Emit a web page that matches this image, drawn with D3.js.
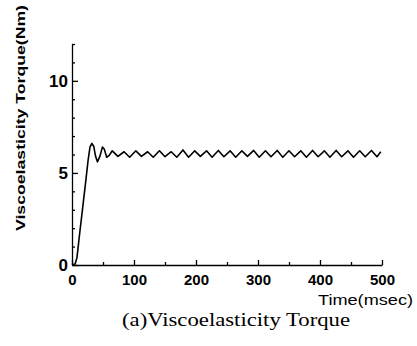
<!DOCTYPE html>
<html>
<head>
<meta charset="utf-8">
<script src="https://cdn.jsdelivr.net/npm/d3@7.9.0/dist/d3.min.js"></script>
<style>
  html, body { margin: 0; padding: 0; background: #fff; }
  svg { display: block; }
</style>
</head>
<body>
<div id="chart"></div>
<script>
// torque trace (msec, Nm)
const times = [0, 5, 8, 12, 17, 22, 26, 29, 32, 35, 38, 41, 45, 49, 52, 56, 60,
  65, 74, 84, 93, 103, 112, 122, 131, 141, 150, 160, 169, 179, 188, 198, 207,
  217, 226, 236, 245, 255, 264, 274, 283, 293, 302, 312, 321, 331, 340, 350,
  359, 369, 378, 388, 397, 407, 416, 426, 435, 445, 454, 464, 473, 483, 492, 498];
const torque = [0, 0.05, 0.4, 1.6, 3.05, 4.5, 5.7, 6.4, 6.6, 6.45, 5.9, 5.6, 5.9, 6.4, 6.3, 5.85, 5.95,
  6.2, 5.9, 6.15, 5.85, 6.2, 5.9, 6.15, 5.85, 6.2, 5.88, 6.15, 5.85, 6.25, 5.85, 6.2, 5.9,
  6.2, 5.85, 6.22, 5.88, 6.2, 5.85, 6.2, 5.9, 6.22, 5.85, 6.2, 5.88, 6.22, 5.85, 6.2,
  5.88, 6.2, 5.85, 6.22, 5.88, 6.2, 5.85, 6.22, 5.88, 6.2, 5.85, 6.2, 5.88, 6.22, 5.88, 6.15];

const xMajor = [0, 100, 200, 300, 400, 500];
const xMinor = [50, 150, 250, 350, 450];
const yMajor = [0, 5, 10];
const yMinor = [1, 2, 3, 4, 6, 7, 8, 9, 11, 12];

const width = 417;
const height = 346;

const svg = d3.select('#chart')
  .append('svg')
  .attr('width', width)
  .attr('height', height);

const x = d3.scaleLinear().domain([0, 500]).range([72, 382]);
const y = d3.scaleLinear().domain([0, 12]).range([265, 44]);

// minor ticks first, no labels
svg.append('g')
  .attr('transform', 'translate(0,265)')
  .call(d3.axisBottom(x).tickValues(xMinor).tickSize(-3).tickFormat(''))
  .call(g => g.select('.domain').remove());

svg.append('g')
  .attr('transform', 'translate(72,0)')
  .call(d3.axisLeft(y).tickValues(yMinor).tickSize(-3).tickFormat(''))
  .call(g => g.select('.domain').remove());

const xAxis = svg.append('g')
  .attr('transform', 'translate(0,265)')
  .call(d3.axisBottom(x).tickValues(xMajor).tickSizeInner(-5).tickSizeOuter(0).tickPadding(9));

xAxis.selectAll('text')
  .attr('font-family', 'Liberation Sans, Arial, sans-serif')
  .attr('font-weight', 'bold')
  .attr('font-size', 15)
  .attr('fill', '#000');

const yAxis = svg.append('g')
  .attr('transform', 'translate(72,0)')
  .call(d3.axisLeft(y).tickValues(yMajor).tickSizeInner(-6).tickSizeOuter(0).tickPadding(4));

yAxis.selectAll('text')
  .attr('font-family', 'Liberation Sans, Arial, sans-serif')
  .attr('font-weight', 'bold')
  .attr('font-size', 17)
  .attr('fill', '#000');

svg.selectAll('.domain, .tick line')
  .attr('stroke', '#000')
  .attr('stroke-width', 1.3);

const points = times.map((t, i) => [t, torque[i]]);

svg.append('path')
  .datum(points)
  .attr('fill', 'none')
  .attr('stroke', '#000')
  .attr('stroke-width', 1.6)
  .attr('stroke-linejoin', 'round')
  .attr('d', d3.line().x(d => x(d[0])).y(d => y(d[1])));

svg.append('text')
  .attr('transform', 'translate(25,118) rotate(-90)')
  .attr('text-anchor', 'middle')
  .attr('font-family', 'Liberation Sans, Arial, sans-serif')
  .attr('font-weight', 'bold')
  .attr('font-size', 13)
  .attr('textLength', 226)
  .attr('lengthAdjust', 'spacingAndGlyphs')
  .text('Viscoelasticity Torque(Nm)');

svg.append('text')
  .attr('x', 413)
  .attr('y', 305)
  .attr('text-anchor', 'end')
  .attr('font-family', 'Liberation Sans, Arial, sans-serif')
  .attr('font-size', 14)
  .attr('textLength', 95)
  .attr('lengthAdjust', 'spacingAndGlyphs')
  .text('Time(msec)');

svg.append('text')
  .attr('x', 122)
  .attr('y', 326)
  .attr('font-family', 'Liberation Serif, Times New Roman, serif')
  .attr('font-size', 18)
  .attr('textLength', 228)
  .attr('lengthAdjust', 'spacingAndGlyphs')
  .text('(a)Viscoelasticity Torque');
</script>
</body>
</html>
